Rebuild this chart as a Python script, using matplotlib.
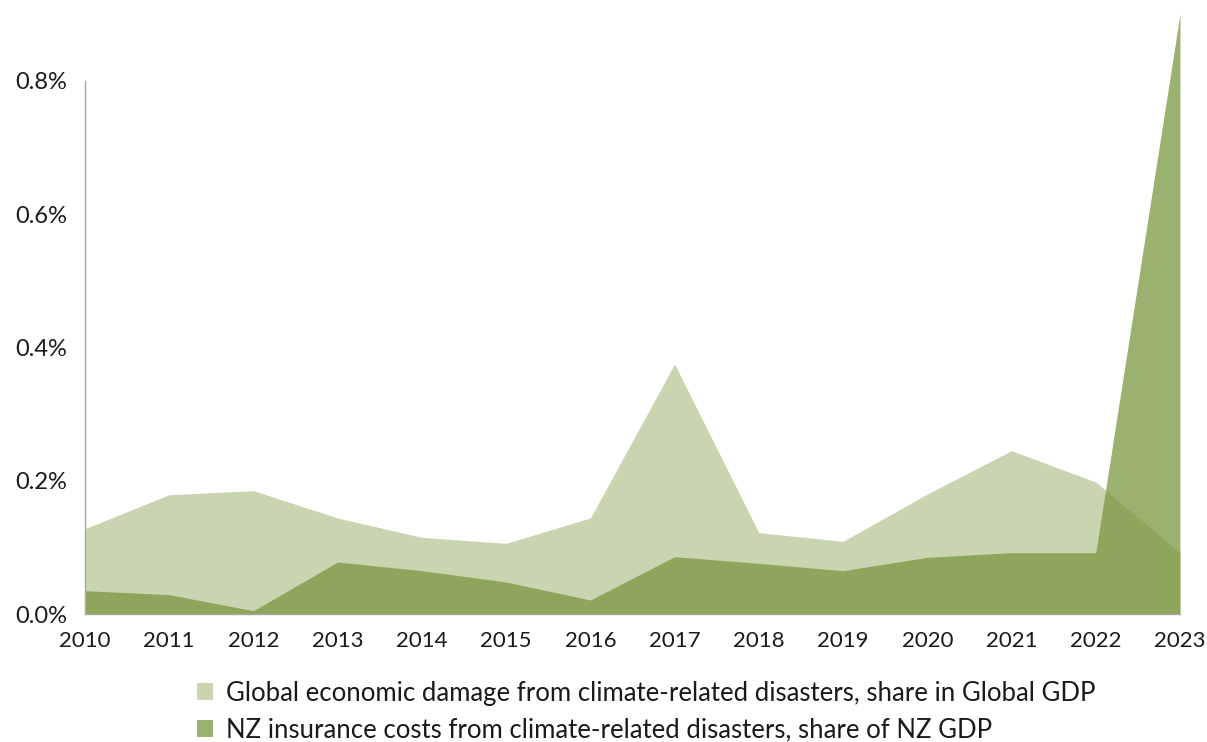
import matplotlib
matplotlib.use("Agg")
import matplotlib.pyplot as plt
from matplotlib.patches import Patch
from matplotlib.ticker import FuncFormatter

years = list(range(2010, 2024))
# share of GDP, in percent
global_damage = [0.128, 0.179, 0.185, 0.144, 0.115, 0.106, 0.144, 0.375, 0.122, 0.109, 0.180, 0.245, 0.198, 0.092]
nz_insurance = [0.035, 0.029, 0.005, 0.078, 0.065, 0.048, 0.021, 0.086, 0.076, 0.065, 0.085, 0.092, 0.092, 0.900]

global_label = "Global economic damage from climate-related disasters, share in Global GDP"
nz_label = "NZ insurance costs from climate-related disasters, share of NZ GDP"

light_green = "#c9d5b0"
dark_green = "#7a9740"
nz_alpha = 0.75

plt.rcParams["font.family"] = ["Lato", "DejaVu Sans"]

fig = plt.figure(figsize=(12.07, 7.42), dpi=100)
ax = fig.add_axes([0.0704, 0.1725, 0.9072, 0.8086])

ax.fill_between(years, 0, global_damage, color=light_green, linewidth=0)
ax.fill_between(years, 0, nz_insurance, color=dark_green, alpha=nz_alpha, linewidth=0)

ax.set_xlim(2010, 2023)
ax.set_ylim(0, 0.9)
ax.set_xticks(years)
ax.set_yticks([0, 0.2, 0.4, 0.6, 0.8])
ax.yaxis.set_major_formatter(FuncFormatter(lambda v, p: f"{v:.1f}%"))
ax.tick_params(axis="both", length=0, colors="#1a1a1a")
ax.tick_params(axis="x", pad=12, labelsize=16)
ax.tick_params(axis="y", pad=13, labelsize=17)

for side in ["top", "right"]:
    ax.spines[side].set_visible(False)
ax.spines["left"].set_bounds(0, 0.8)
for side in ["left", "bottom"]:
    ax.spines[side].set_color("#a6a6a6")
    ax.spines[side].set_linewidth(1.0)

handles = [
    Patch(facecolor=light_green, edgecolor="none", label=global_label),
    Patch(facecolor=dark_green, alpha=nz_alpha, edgecolor="none", label=nz_label),
]
fig.legend(handles=handles, loc="center left", bbox_to_anchor=(0.163, 0.041),
           frameon=False, fontsize=18.5, labelcolor="#1a1a1a",
           handlelength=0.63, handleheight=0.63, handletextpad=0.5,
           labelspacing=0.45, borderpad=0, borderaxespad=0)

fig.savefig("out.png", dpi=100)
